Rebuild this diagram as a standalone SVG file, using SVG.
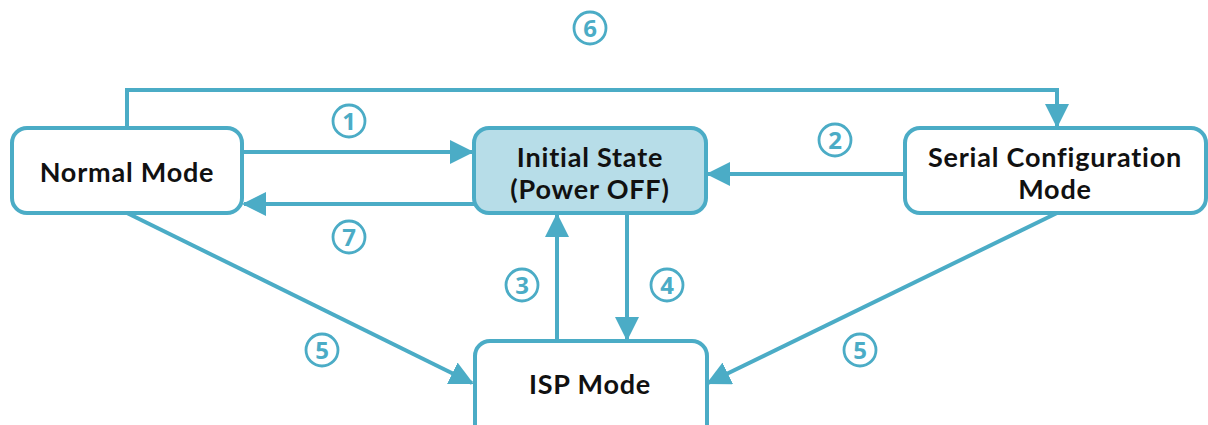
<svg xmlns="http://www.w3.org/2000/svg" width="1208" height="425" viewBox="0 0 1208 425">
  <style>
    .box { fill: #ffffff; stroke: #4bacc6; stroke-width: 4; }
    .box.active { fill: #b7dde8; }
    .lbl { font-family: Lato, "Noto Sans", sans-serif; font-weight: bold; font-size: 27px; letter-spacing: 0.8px; fill: #111111; text-anchor: middle; }
    .wire { fill: none; stroke: #4bacc6; stroke-width: 4; }
    .ring { fill: #ffffff; stroke: #4bacc6; stroke-width: 2.8; }
    .num { font-family: "Noto Sans", "DejaVu Sans", sans-serif; font-weight: bold; font-size: 24px; fill: #4bacc6; text-anchor: middle; }
  </style>
  <defs>
    <marker id="arrow" markerWidth="6" markerHeight="6" refX="5.5" refY="3" orient="auto" markerUnits="strokeWidth">
      <path d="M0,0 L6,3 L0,6 Z" fill="#4bacc6"/>
    </marker>
  </defs>

  <g id="connectors">
    <!-- 6: Normal Mode over the top to Serial Configuration Mode -->
    <path class="wire" d="M127,128 V90 H1057 V126" marker-end="url(#arrow)"/>
    <!-- 1: Normal -> Initial -->
    <path class="wire" d="M242,152 H472" marker-end="url(#arrow)"/>
    <!-- 7: Initial -> Normal -->
    <path class="wire" d="M474,204 H244" marker-end="url(#arrow)"/>
    <!-- 2: Serial -> Initial -->
    <path class="wire" d="M905,174 H708" marker-end="url(#arrow)"/>
    <!-- 3: ISP -> Initial -->
    <path class="wire" d="M557,341 V215" marker-end="url(#arrow)"/>
    <!-- 4: Initial -> ISP -->
    <path class="wire" d="M627,213 V339" marker-end="url(#arrow)"/>
    <!-- 5: Normal -> ISP -->
    <path class="wire" d="M127,213 L472,383" marker-end="url(#arrow)"/>
    <!-- 5: Serial -> ISP -->
    <path class="wire" d="M1057,213 L708,383" marker-end="url(#arrow)"/>
  </g>

  <g id="labels">
    <g id="step-6"><circle class="ring" cx="590" cy="28" r="16"/><text class="num" x="590" y="36.7">6</text></g>
    <g id="step-1"><circle class="ring" cx="349" cy="121" r="16"/><text class="num" x="349" y="129.7">1</text></g>
    <g id="step-7"><circle class="ring" cx="349" cy="237" r="16"/><text class="num" x="349" y="245.7">7</text></g>
    <g id="step-2"><circle class="ring" cx="835" cy="140" r="16"/><text class="num" x="835" y="148.7">2</text></g>
    <g id="step-3"><circle class="ring" cx="522" cy="285" r="16"/><text class="num" x="522" y="293.7">3</text></g>
    <g id="step-4"><circle class="ring" cx="667" cy="285" r="16"/><text class="num" x="667" y="293.7">4</text></g>
    <g id="step-5a"><circle class="ring" cx="322" cy="350" r="16"/><text class="num" x="322" y="358.7">5</text></g>
    <g id="step-5b"><circle class="ring" cx="860" cy="350" r="16"/><text class="num" x="860" y="358.7">5</text></g>
  </g>

  <g id="normal-mode">
    <rect class="box" x="12" y="128" width="230" height="85" rx="15"/>
    <text class="lbl" x="127" y="182">Normal Mode</text>
  </g>

  <g id="initial-state">
    <rect class="box active" x="474" y="128" width="232" height="85" rx="15"/>
    <text class="lbl" x="590" y="166.5"><tspan x="590">Initial State</tspan><tspan x="590" dy="32.5">(Power OFF)</tspan></text>
  </g>

  <g id="serial-config">
    <rect class="box" x="905" y="128" width="301" height="85" rx="15"/>
    <text class="lbl" x="1055" y="166.5"><tspan x="1055">Serial Configuration</tspan><tspan x="1055" dy="32.5">Mode</tspan></text>
  </g>

  <g id="isp-mode">
    <rect class="box" x="475" y="341" width="232" height="100" rx="15"/>
    <text class="lbl" x="590" y="394">ISP Mode</text>
  </g>
</svg>
